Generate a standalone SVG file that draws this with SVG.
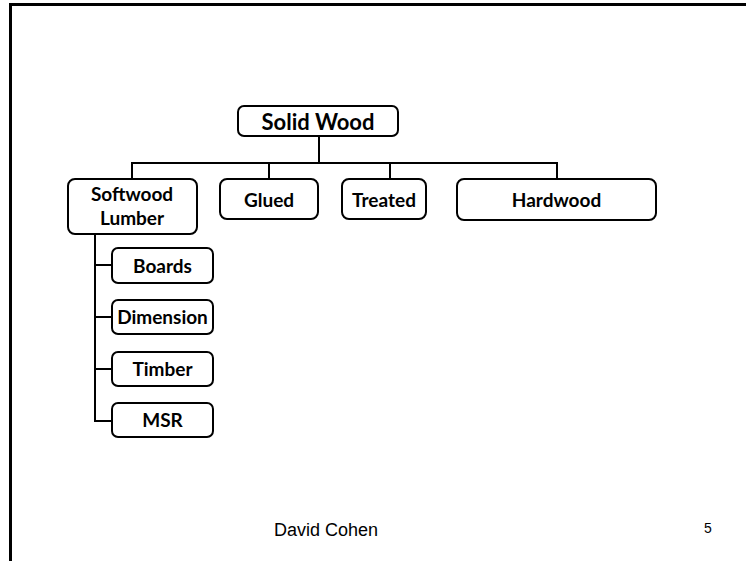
<svg xmlns="http://www.w3.org/2000/svg" width="746" height="561" viewBox="0 0 746 561">
  <style>
    .box { fill: #ffffff; stroke: #000000; stroke-width: 2; }
    .lbl { font-family: Lato, "Open Sans", "Liberation Sans", sans-serif; font-weight: bold; font-size: 19px; fill: #000000; text-anchor: middle; }
    .root { font-size: 22px; }
    .wire { fill: none; stroke: #000000; stroke-width: 2; }
    .foot { font-family: "Liberation Sans", Arial, sans-serif; fill: #000000; }
  </style>

  <rect x="0" y="0" width="746" height="561" fill="#ffffff"/>
  <!-- slide frame: top and left edges -->
  <path d="M10.5 561 V4.5 H746" fill="none" stroke="#000000" stroke-width="3"/>

  <g id="connectors">
    <path class="wire" d="M319 136 V163"/>
    <path class="wire" d="M132 179 V163 H557 V179"/>
    <path class="wire" d="M269 163 V179"/>
    <path class="wire" d="M390 163 V179"/>
    <path class="wire" d="M95 234 V421 H112"/>
    <path class="wire" d="M95 265 H112"/>
    <path class="wire" d="M95 317 H112"/>
    <path class="wire" d="M95 369 H112"/>
  </g>

  <g id="solid-wood">
    <rect class="box" x="238" y="106" width="160" height="30" rx="6"/>
    <text class="lbl root" x="318" y="129.5">Solid Wood</text>
  </g>
  <g id="softwood-lumber">
    <rect class="box" x="68" y="179" width="129" height="55" rx="7"/>
    <text class="lbl" x="132" y="201">Softwood</text>
    <text class="lbl" x="132" y="225">Lumber</text>
  </g>
  <g id="glued">
    <rect class="box" x="220" y="179" width="98" height="40" rx="7"/>
    <text class="lbl" x="269" y="207">Glued</text>
  </g>
  <g id="treated">
    <rect class="box" x="342" y="179" width="84" height="40" rx="7"/>
    <text class="lbl" x="384" y="207">Treated</text>
  </g>
  <g id="hardwood">
    <rect class="box" x="457" y="179" width="199" height="41" rx="7"/>
    <text class="lbl" x="556.5" y="207">Hardwood</text>
  </g>
  <g id="boards">
    <rect class="box" x="112" y="248" width="101" height="35" rx="6"/>
    <text class="lbl" x="162.5" y="272.5">Boards</text>
  </g>
  <g id="dimension">
    <rect class="box" x="112" y="300" width="101" height="34" rx="6"/>
    <text class="lbl" x="162.5" y="324">Dimension</text>
  </g>
  <g id="timber">
    <rect class="box" x="112" y="352" width="101" height="34" rx="6"/>
    <text class="lbl" x="162.5" y="376">Timber</text>
  </g>
  <g id="msr">
    <rect class="box" x="112" y="403" width="101" height="34" rx="6"/>
    <text class="lbl" x="162.5" y="427">MSR</text>
  </g>

  <text class="foot" x="326" y="536" font-size="18" text-anchor="middle">David Cohen</text>
  <text class="foot" x="708" y="533" font-size="14" text-anchor="middle">5</text>
</svg>
